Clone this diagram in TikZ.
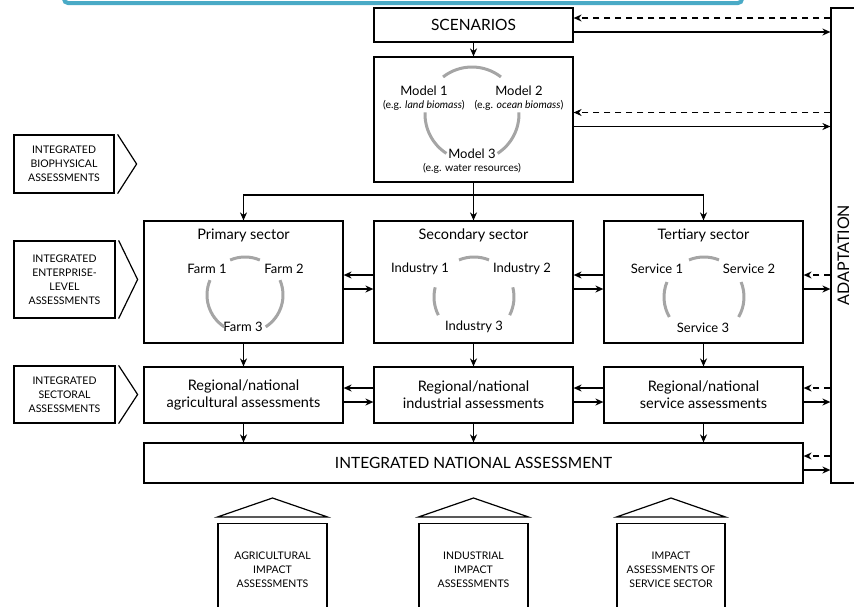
\documentclass[tikz,border=0pt]{standalone}
\usepackage{fontspec}
\setmainfont{Lato}
\usepackage{xcolor}
\usepackage{tikz}
\usetikzlibrary{arrows.meta,positioning,calc}

\definecolor{barteal}{RGB}{74,170,198}
\definecolor{ringgray}{RGB}{165,165,165}

\begin{document}
\begin{tikzpicture}[x=1pt,y=1pt,>={Stealth[length=8pt,width=7pt]},semithick]
  \tikzstyle{box}=[draw,line width=1.2pt,rectangle,align=center,inner sep=2pt]
  \tikzstyle{capbig}=[font=\fontsize{15.5}{18}\selectfont]
  \tikzstyle{capsmall}=[font=\fontsize{10.5}{14}\selectfont,align=center]
  \tikzstyle{title}=[font=\fontsize{14.5}{17}\selectfont]
  \tikzstyle{member}=[font=\fontsize{13}{15}\selectfont,inner sep=1pt,align=center]
  \tikzstyle{link}=[->,line width=1.9pt]
  \tikzstyle{feedback}=[->,line width=1.9pt,dash pattern=on 6pt off 5pt]
  \tikzstyle{ring}=[ringgray,line width=3pt]

  \useasboundingbox (0,0) rectangle (854,-606);
  \draw[barteal,line width=4pt,rounded corners=4pt] (64,20) rectangle (742,-3);

  % adaptation column
  \node[box,minimum width=30,minimum height=475] (adapt) at (846,-245.5) {};
  \node[font=\fontsize{16}{18}\selectfont,rotate=90,inner sep=0pt] (adapttxt) at (843.5,-255) {ADAPTATION};

  % top chain
  \node[box,capbig,minimum width=199,minimum height=34] (scen) at (473.5,-25) {SCENARIOS};
  \node[box,minimum width=199,minimum height=125] (model) at (473.5,-119.5) {};
  \node[member] (m1) at (424,-98) {Model 1\\[-2pt]{\fontsize{10.5}{12}\selectfont (e.g. \textit{land biomass})}};
  \node[member] (m2) at (519,-98) {Model 2\\[-2pt]{\fontsize{10.5}{12}\selectfont (e.g. \textit{ocean biomass})}};
  \node[member] (m3) at (472,-161) {Model 3\\[-2pt]{\fontsize{10.5}{12}\selectfont (e.g. water resources)}};
  \coordinate (mring) at (472,-114);
  \draw[ring] (mring) ++(52:47) arc (52:128:47);
  \draw[ring] (mring) ++(178:47) arc (178:237:47);
  \draw[ring] (mring) ++(-57:47) arc (-57:2:47);

  % sectors
  \node[box,minimum width=199,minimum height=122] (prim) at (243.5,-282) {};
  \node[box,minimum width=199,minimum height=122] (seco) at (473.5,-282) {};
  \node[box,minimum width=199,minimum height=122] (tert) at (703.5,-282) {};
  \node[title] (ptitle) [below=5pt of prim.north] {Primary sector};
  \node[title] (stitle) [below=5pt of seco.north] {Secondary sector};
  \node[title] (ttitle) [below=5pt of tert.north] {Tertiary sector};

  \node[member] (f1) at (207,-269) {Farm 1};
  \node[member] (f2) at (284,-269) {Farm 2};
  \node[member] (f3) at (243,-327) {Farm 3};
  \coordinate (pring) at (245,-295);
  \draw[ring] (pring) ++(67:38) arc (67:113:38);
  \draw[ring] (pring) ++(157:38) arc (157:237:38);
  \draw[ring] (pring) ++(-57:38) arc (-57:23:38);

  \node[member] (i1) at (420,-269) {Industry 1};
  \node[member] (i2) at (522,-269) {Industry 2};
  \node[member] (i3) at (474,-327) {Industry 3};
  \coordinate (sring) at (474,-297);
  \draw[ring] (sring) ++(68:40) arc (68:112:40);
  \draw[ring] (sring) ++(166:40) arc (166:207:40);
  \draw[ring] (sring) ++(-27:40) arc (-27:14:40);

  \node[member] (s1) at (657,-269) {Service 1};
  \node[member] (s2) at (749,-269) {Service 2};
  \node[member] (s3) at (703,-328) {Service 3};
  \coordinate (tring) at (704,-297);
  \draw[ring] (tring) ++(68:40) arc (68:112:40);
  \draw[ring] (tring) ++(158:40) arc (158:210:40);
  \draw[ring] (tring) ++(-30:40) arc (-30:22:40);

  % regional and national
  \node[box,title,minimum width=199,minimum height=56] (agrreg) at (243.5,-395) {Regional/national\\agricultural assessments};
  \node[box,title,minimum width=199,minimum height=56] (indreg) at (473.5,-395) {Regional/national\\industrial assessments};
  \node[box,title,minimum width=199,minimum height=56] (serreg) at (703.5,-395) {Regional/national\\service assessments};
  \node[box,capbig,minimum width=659,minimum height=40] (nat) at (473.5,-463) {INTEGRATED NATIONAL ASSESSMENT};

  % side labels
  \node[box,capsmall,minimum width=100,minimum height=58] (bio) at (64,-164) {INTEGRATED\\BIOPHYSICAL\\ASSESSMENTS};
  \node[box,capsmall,minimum width=101,minimum height=77] (ent) at (64.5,-279.5) {INTEGRATED\\ENTERPRISE-\\LEVEL\\ASSESSMENTS};
  \node[box,capsmall,minimum width=101,minimum height=57] (sec) at (64.5,-394.5) {INTEGRATED\\SECTORAL\\ASSESSMENTS};
  \foreach \n in {bio,ent,sec}
    \draw[line width=1.2pt] ([xshift=3pt]\n.north east) -- ([xshift=22pt]\n.east) -- ([xshift=3pt]\n.south east);

  % impact houses
  \node[box,capsmall,anchor=north,minimum width=109,minimum height=92] (agrimp) at (272.5,-523) {AGRICULTURAL\\IMPACT\\ASSESSMENTS};
  \node[box,capsmall,anchor=north,minimum width=109,minimum height=92] (indimp) at (473.5,-523) {INDUSTRIAL\\IMPACT\\ASSESSMENTS};
  \node[box,capsmall,anchor=north,minimum width=108,minimum height=92] (serimp) at (671,-523) {IMPACT\\ASSESSMENTS OF\\SERVICE SECTOR};
  \foreach \n in {agrimp,indimp,serimp}
    \draw[line width=1.2pt] ([yshift=6pt]\n.north west) -- ([yshift=25pt]\n.north) -- ([yshift=6pt]\n.north east) -- cycle;

  % flows down
  \draw[link] (scen) -- (model);
  \coordinate (split) at ($(model.south)+(0,-12)$);
  \draw[line width=1.9pt] (model.south) -- (split);
  \draw[link] (split) -- (seco);
  \draw[link] (split) -| (prim.north);
  \draw[link] (split) -| (tert.north);
  \draw[link] (prim) -- (agrreg);
  \draw[link] (seco) -- (indreg);
  \draw[link] (tert) -- (serreg);
  \draw[link] (agrreg.south) -- (agrreg.south |- nat.north);
  \draw[link] (indreg.south) -- (indreg.south |- nat.north);
  \draw[link] (serreg.south) -- (serreg.south |- nat.north);

  % sideways exchange
  \foreach \a/\b in {prim/seco,seco/tert,agrreg/indreg,indreg/serreg} {
    \draw[link] ([yshift=7pt]\b.west) -- ([yshift=7pt]\a.east);
    \draw[link] ([yshift=-7pt]\a.east) -- ([yshift=-7pt]\b.west);
  }

  % adaptation feedback
  \foreach \n in {scen,model,tert,serreg,nat} {
    \draw[feedback] ([yshift=7pt]\n.east -| adapt.west) -- ([yshift=7pt]\n.east);
    \draw[link] ([yshift=-7pt]\n.east) -- ([yshift=-7pt]\n.east -| adapt.west);
  }
\end{tikzpicture}
\end{document}
